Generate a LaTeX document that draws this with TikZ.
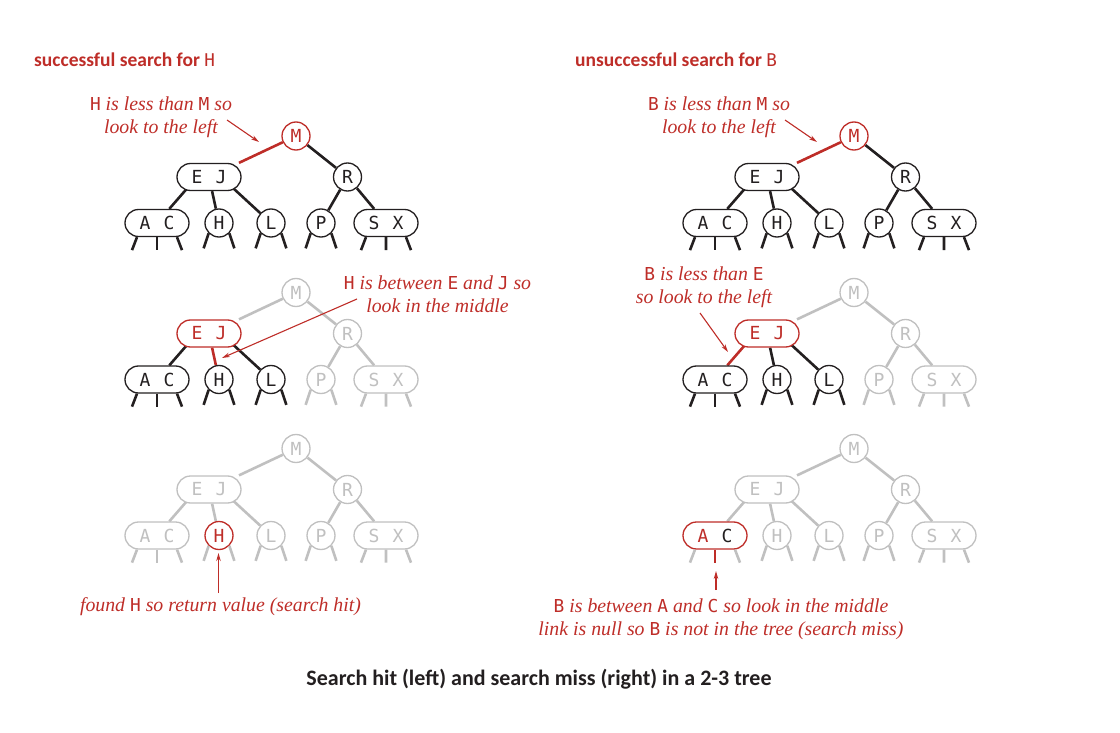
\documentclass[tikz,border=0pt]{standalone}
\usepackage{fontspec}
\setmainfont{Liberation Serif}
\newfontfamily\headfont{Carlito}
\newfontfamily\keyfont[Scale=0.9]{DejaVu Sans Mono}
\usetikzlibrary{arrows.meta,backgrounds}

\definecolor{ink}{RGB}{35,31,32}
\definecolor{hit}{RGB}{190,45,40}
\definecolor{shade}{RGB}{192,192,192}

\newcommand\kk[1]{{\upshape\keyfont #1}}
\newcommand\keygap{\hspace{13.2pt}}
\newcommand\Akey{A}

\tikzset{
  onekey/.style={circle, draw=ink, text=ink, fill=white, minimum size=28pt, inner sep=0pt,
    line width=1.3pt, font=\keyfont\fontsize{20}{20}\selectfont},
  twokey/.style={onekey, rectangle, rounded corners=13.5pt, minimum width=64pt, minimum height=27pt},
  link/.style={draw=ink, line width=2.6pt},
  faded/.style={draw=shade, text=shade},
  found/.style={draw=hit, text=hit},
  pointer/.style={draw=hit, line width=1.1pt, -{Stealth[length=8pt,width=4.5pt]}},
  note/.style={text=hit, font=\itshape\fontsize{19.8}{23}\selectfont, align=center, anchor=base},
  heading/.style={text=hit, font=\headfont\bfseries\fontsize{19.5}{22}\selectfont, anchor=base west,
    inner sep=0pt},
  % parts of a tree that a panel can restyle
  upper/.style={}, lefttree/.style={}, righttree/.style={},
  cM/.style={}, cEJ/.style={}, cAC/.style={}, cH/.style={},
  eEJ/.style={}, eAC/.style={}, eH/.style={}, sACmid/.style={}
}

% the 2-3 tree, root at the origin of the current scope
\newcommand\twothree[1]{%
  \node[onekey, upper, cM] (#1m) at (0,0) {M};
  \node[twokey, lefttree, cEJ] (#1ej) at (-87,41) {E\keygap J};
  \node[onekey, righttree] (#1r) at (51.5,41) {R};
  \node[twokey, lefttree, cAC] (#1ac) at (-139,87) {\Akey\keygap C};
  \node[onekey, lefttree, cH] (#1h) at (-77,87) {H};
  \node[onekey, lefttree] (#1l) at (-25,87) {L};
  \node[onekey, righttree] (#1p) at (25,87) {P};
  \node[twokey, righttree] (#1sx) at (90,87) {S\keygap X};
  \begin{scope}[on background layer]
    \draw[link, upper, eEJ] (#1m) -- (#1ej);
    \draw[link, upper] (#1m) -- (#1r);
    \draw[link, lefttree, eAC] ([xshift=-12pt]#1ej.center) -- (#1ac);
    \draw[link, lefttree, eH] (#1ej) -- (#1h);
    \draw[link, lefttree] ([xshift=12pt]#1ej.center) -- (#1l);
    \draw[link, righttree] (#1r) -- (#1p) (#1r) -- (#1sx);
  \end{scope}
  % null links
  \draw[link, lefttree] ([xshift=-20pt]#1ac.south) -- ++(-5,13) ([xshift=20pt]#1ac.south) -- ++(5,13);
  \draw[link, lefttree, sACmid] (#1ac.south) -- ++(0,13);
  \draw[link, lefttree] (#1h.-135) -- ++(-5,15) (#1h.-45) -- ++(5,15)
    (#1l.-135) -- ++(-5,15) (#1l.-45) -- ++(5,15);
  \draw[link, righttree] (#1p.-135) -- ++(-5,15) (#1p.-45) -- ++(5,15)
    ([xshift=-20pt]#1sx.south) -- ++(-5,13) (#1sx.south) -- ++(0,13)
    ([xshift=20pt]#1sx.south) -- ++(5,13);
}

\begin{document}
\begin{tikzpicture}[x=1pt,y=-1pt]
\useasboundingbox (0,0) rectangle (1120,733);

\node[heading] (hitlabel) at (34,66.5) {successful search for {\mdseries\keyfont H}};
\node[heading] (misslabel) at (575,67) {unsuccessful search for {\mdseries\keyfont B}};

% search hit
\begin{scope}[shift={(296,136)}, cM/.style={found}, eEJ/.style={draw=hit}]
  \twothree{hita}
\end{scope}
\begin{scope}[shift={(296,292.5)}, upper/.style={faded}, righttree/.style={faded},
    cEJ/.style={found}, eH/.style={draw=hit}]
  \twothree{hitb}
\end{scope}
\begin{scope}[shift={(296,448.5)}, upper/.style={faded}, lefttree/.style={faded},
    righttree/.style={faded}, cH/.style={found}]
  \twothree{hitc}
\end{scope}

% search miss
\begin{scope}[shift={(854,136)}, cM/.style={found}, eEJ/.style={draw=hit}]
  \twothree{missa}
\end{scope}
\begin{scope}[shift={(854,292.5)}, upper/.style={faded}, righttree/.style={faded},
    cEJ/.style={found}, eAC/.style={draw=hit}]
  \twothree{missb}
\end{scope}
\begin{scope}[shift={(854,448.5)}, upper/.style={faded}, lefttree/.style={faded},
    righttree/.style={faded}, cAC/.style={found, text=ink}, sACmid/.style={draw=hit}]
  \renewcommand\Akey{\textcolor{hit}{A}}
  \twothree{missc}
\end{scope}

% the base of a note is the baseline of its last line
\node[note] (hint1) at (161,134) {\kk{H} is less than \kk{M} so\\look to the left};
\node[note] (hint2) at (437.5,312.5) {\kk{H} is between \kk{E} and \kk{J} so\\look in the middle};
\node[note] (hint3) at (220.5,611.5) {found \kk{H} so return value (search hit)};
\node[note] (hint4) at (719,134) {\kk{B} is less than \kk{M} so\\look to the left};
\node[note] (hint5) at (704,303.5) {\kk{B} is less than \kk{E}\\so look to the left};
\node[note] (hint6) at (721,635) {\kk{B} is between \kk{A} and \kk{C} so look in the middle\\link is null so \kk{B} is not in the tree (search miss)};

\coordinate (from1) at (227,120);   \coordinate (to1) at (259,142);
\coordinate (from2) at (357,299);   \coordinate (to2) at (222,358);
\coordinate (from3) at (218.5,593); \coordinate (to3) at (218.5,553);
\coordinate (from4) at (785,120);   \coordinate (to4) at (817,142);
\coordinate (from5) at (700,313);   \coordinate (to5) at (728,352);
\coordinate (from6) at (716,590);   \coordinate (to6) at (716,571);
\foreach \i in {1,...,6}
  \draw[pointer] (from\i) -- (to\i);

\node[font=\headfont\bfseries\fontsize{22}{26}\selectfont, text=ink, anchor=base] (caption)
  at (539,685.5) {Search hit (left) and search miss (right) in a 2-3 tree};
\end{tikzpicture}
\end{document}
